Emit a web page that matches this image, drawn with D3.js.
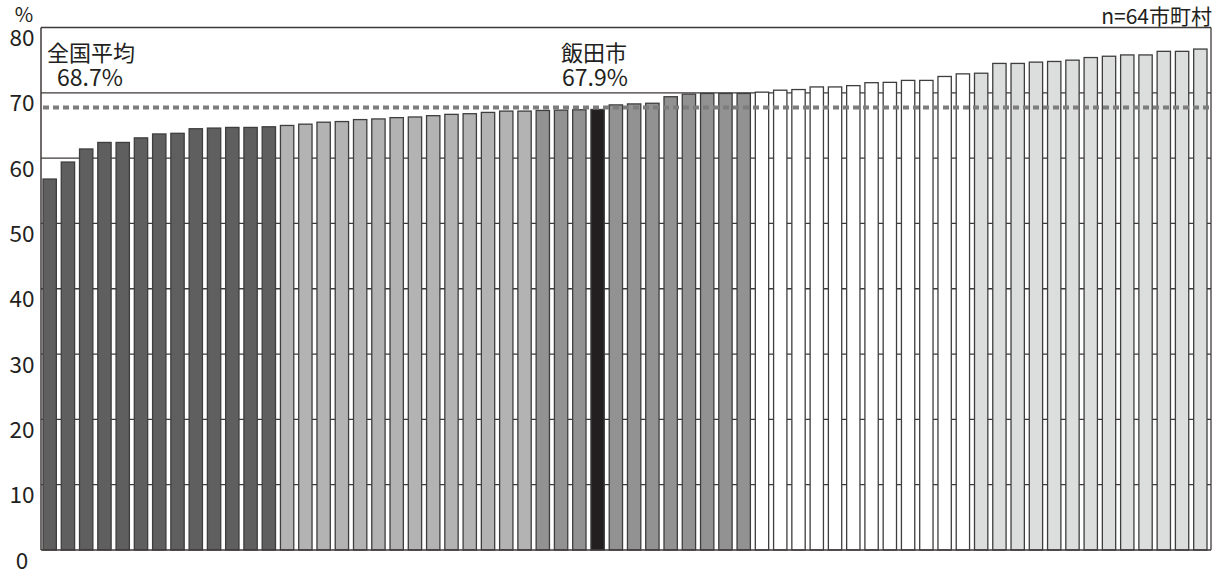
<!DOCTYPE html>
<html><head><meta charset="utf-8">
<script src="https://cdn.jsdelivr.net/npm/d3@7"></script>
<style>
html,body{margin:0;padding:0;background:#fff;}
svg{display:block;}
text{font-family:"Noto Sans CJK JP","Noto Sans",sans-serif;fill:#231f20;}
</style></head>
<body>
<script>
// ---- data ----
const values = [
  56.8, 59.4, 61.4, 62.4, 62.4, 63.1, 63.7, 63.8, 64.5, 64.6, 64.7, 64.7, 64.8,
  65.0, 65.2, 65.5, 65.6, 65.9, 66.0, 66.2, 66.3, 66.5, 66.7, 66.8, 67.0, 67.2, 67.2,
  67.3, 67.35, 67.4, 67.45, 68.15, 68.3, 68.4, 69.4, 69.8, 69.9, 69.9, 69.9,
  70.1, 70.4, 70.5, 70.9, 70.9, 71.1, 71.55, 71.6, 71.9, 71.9, 72.5, 72.9,
  73.0, 74.5, 74.5, 74.7, 74.8, 75.0, 75.4, 75.6, 75.8, 75.8, 76.35, 76.35, 76.7
];
const groups = [
  "A","A","A","A","A","A","A","A","A","A","A","A","A",
  "B","B","B","B","B","B","B","B","B","B","B","B","B","B",
  "C","C","C","Iida","C","C","C","C","C","C","C","C",
  "D","D","D","D","D","D","D","D","D","D","D","D",
  "E","E","E","E","E","E","E","E","E","E","E","E","E"
];
const groupColors = {A:"#5f5f5f", B:"#b3b3b3", C:"#929292", Iida:"#231f20", D:"#ffffff", E:"#dcdddd"};
const yTicks = [0, 10, 20, 30, 40, 50, 60, 70, 80];
const gridTicks = [10, 20, 30, 40, 50, 60, 70];
const nationalAvgLabel = ["全国平均", "68.7%"];
const iidaLabel = ["飯田市", "67.9%"];
const nationalAvgLineLevel = 67.75; // position of dashed line
const sampleNote = "n=64市町村";
const unitLabel = "%";

// ---- chart ----
const W = 1223, H = 573;
const svg = d3.select("body").append("svg").attr("width", W).attr("height", H);

const x = d3.scaleBand().domain(d3.range(values.length)).range([43, 1207]).paddingInner(0.27).paddingOuter(0);
const y = d3.scaleLinear().domain([0, 80]).range([550, 27.5]);
const left = 41, right = 1211;

// gridlines (behind bars)
svg.append("g").selectAll("line").data(gridTicks).join("line")
  .attr("x1", left).attr("x2", right)
  .attr("y1", d => y(d)).attr("y2", d => y(d))
  .attr("stroke", "#3e3a39").attr("stroke-width", 1.3);

// bars
svg.append("g").selectAll("rect").data(values).join("rect")
  .attr("x", (d, i) => x(i))
  .attr("width", x.bandwidth())
  .attr("y", d => y(d))
  .attr("height", d => y(0) - y(d))
  .attr("fill", (d, i) => groupColors[groups[i]])
  .attr("stroke", "#3e3e3e").attr("stroke-width", 1.3);

// frame: top line, left axis, baseline, right edge
svg.append("line").attr("x1", left).attr("x2", right).attr("y1", y(80)).attr("y2", y(80))
  .attr("stroke", "#3e3a39").attr("stroke-width", 1.3);
svg.append("line").attr("x1", left).attr("x2", left).attr("y1", y(80)).attr("y2", y(0))
  .attr("stroke", "#3e3a39").attr("stroke-width", 1.5);
svg.append("line").attr("x1", left).attr("x2", right).attr("y1", y(0)).attr("y2", y(0))
  .attr("stroke", "#3e3a39").attr("stroke-width", 1.5);
svg.append("line").attr("x1", right).attr("x2", right).attr("y1", y(80)).attr("y2", y(0))
  .attr("stroke", "#3e3a39").attr("stroke-width", 1.3);

// national average dashed line
svg.append("line").attr("x1", left + 2).attr("x2", right)
  .attr("y1", y(nationalAvgLineLevel)).attr("y2", y(nationalAvgLineLevel))
  .attr("stroke", "#7d7d7d").attr("stroke-width", 4).attr("stroke-dasharray", "6,4");

// y tick labels (hang below gridlines, centred)
svg.append("g").selectAll("text").data(yTicks).join("text")
  .attr("x", 22).attr("y", d => y(d) + 18.5)
  .attr("text-anchor", "middle").attr("font-size", 22.5)
  .text(d => d);

svg.append("text").attr("x", 24).attr("y", 22).attr("text-anchor", "middle")
  .attr("font-size", 20).text(unitLabel);

svg.append("text").attr("x", right + 1).attr("y", 23.5).attr("text-anchor", "end")
  .attr("font-size", 21).text(sampleNote);

// annotations
svg.append("text").attr("x", 47).attr("y", 61).attr("font-size", 22).text(nationalAvgLabel[0]);
svg.append("text").attr("x", 57).attr("y", 86).attr("font-size", 23).text(nationalAvgLabel[1]);
svg.append("text").attr("x", 561).attr("y", 61).attr("font-size", 22).text(iidaLabel[0]);
svg.append("text").attr("x", 562).attr("y", 86).attr("font-size", 23).text(iidaLabel[1]);
</script>
</body></html>
